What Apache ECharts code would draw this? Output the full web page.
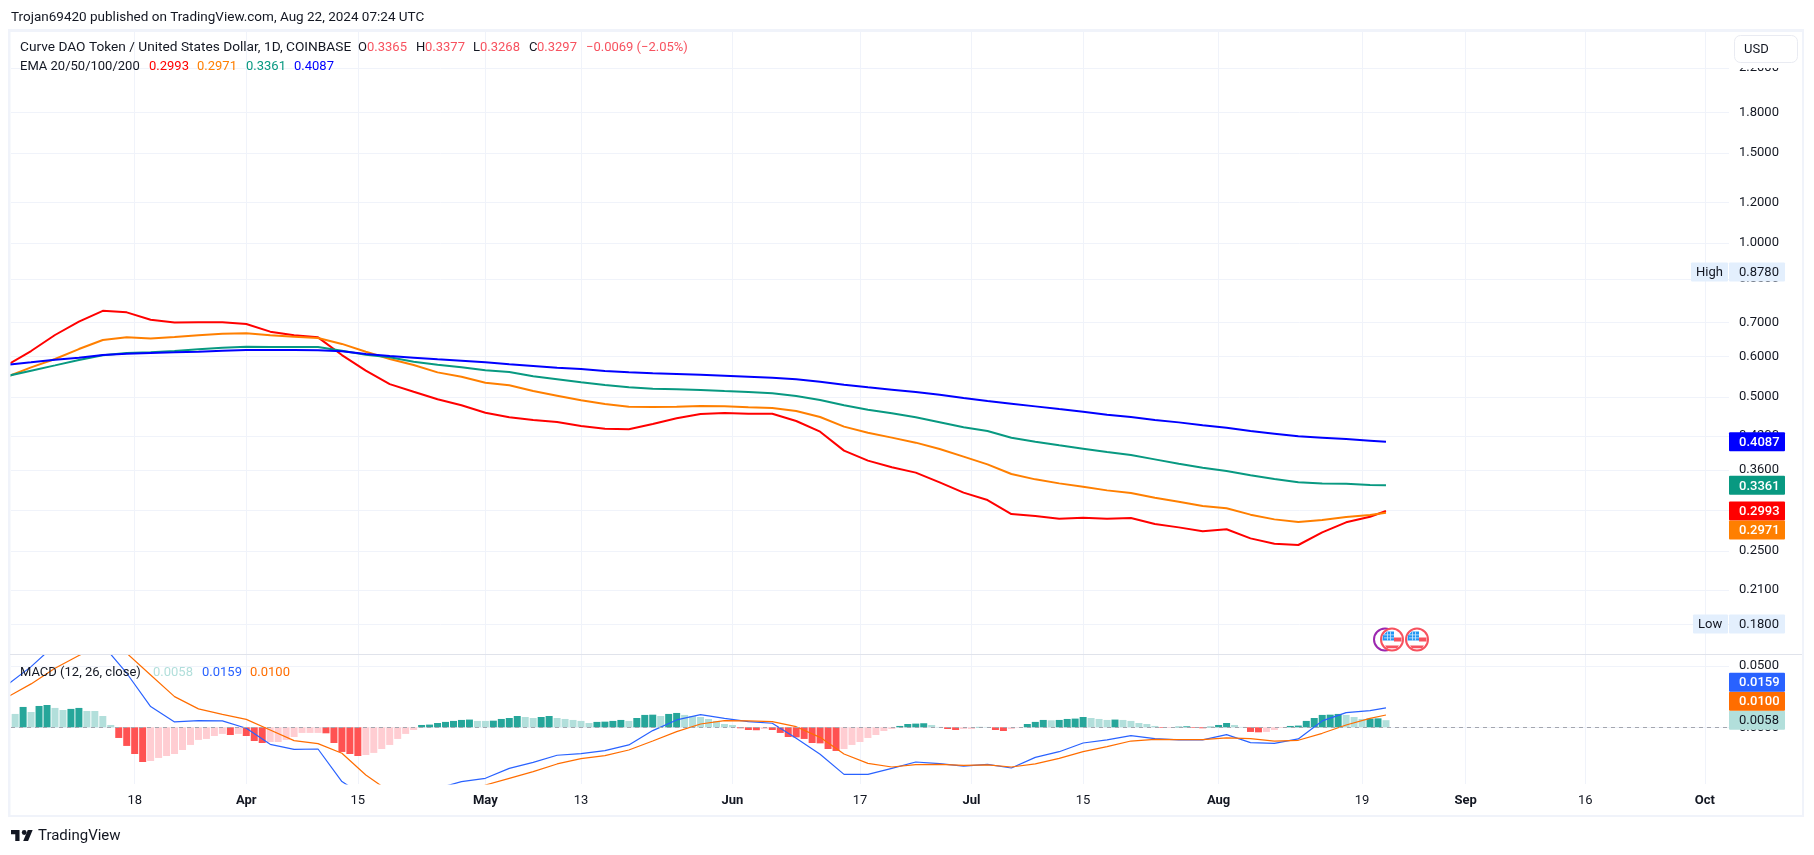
<!DOCTYPE html>
<html>
<head>
    <meta charset="utf-8">
    <title>Curve DAO Token / USD</title>
    <script src="https://cdn.jsdelivr.net/npm/echarts/dist/echarts.min.js"></script>
    <style>
        html, body { margin: 0; padding: 0; background: #fff; }
    </style>
</head>
<body>
    <div id="main" style="width: 1814px;height:855px;"></div>
    <script>
        // day offsets from 1 Apr 2024 at which the lines were read: every 3 days, then the last bar
        var lineDays = [];
        for (var d = -30; d <= 141; d += 3) lineDays.push(d);
        lineDays.push(143);

        var ema20 = [
            0.5775, 0.615, 0.661, 0.702, 0.737, 0.732, 0.708, 0.699, 0.7, 0.7, 0.6945, 0.671, 0.66, 0.654, 0.604, 0.563, 0.53, 0.512, 0.495, 0.482, 0.466,
            0.4564, 0.4509, 0.4469, 0.4389, 0.4337, 0.4324, 0.4428, 0.4543, 0.4633, 0.4653, 0.4639, 0.4639, 0.4488, 0.4278, 0.3928, 0.3755, 0.3644, 0.3558, 0.3406, 0.3252,
            0.3145, 0.2953, 0.2927, 0.2892, 0.2905, 0.2892, 0.2901, 0.2824, 0.2781, 0.2732, 0.2757, 0.2647, 0.2584, 0.2569, 0.272, 0.2845, 0.2918, 0.2993
        ];
        var ema50 = [
            0.548, 0.5715, 0.5933, 0.6205, 0.6463, 0.654, 0.651, 0.655, 0.66, 0.665, 0.666, 0.66, 0.656, 0.652, 0.635, 0.613, 0.5933, 0.5775, 0.5587, 0.548, 0.5334,
            0.5271, 0.5137, 0.5031, 0.4926, 0.4845, 0.4788, 0.4781, 0.4788, 0.4802, 0.4795, 0.4774, 0.4759, 0.4695, 0.457, 0.4376, 0.4259, 0.4165, 0.4072, 0.3957, 0.3823,
            0.3693, 0.3536, 0.3452, 0.339, 0.334, 0.3285, 0.3246, 0.3179, 0.3122, 0.3061, 0.303, 0.2945, 0.2883, 0.2849, 0.2874, 0.2913, 0.294, 0.2971
        ];
        var ema100 = [
            0.5496, 0.563, 0.5766, 0.5906, 0.6032, 0.6096, 0.6113, 0.615, 0.6197, 0.6244, 0.6272, 0.6262, 0.6262, 0.6262, 0.616, 0.605, 0.5978, 0.5863, 0.5784, 0.5715, 0.5638,
            0.5596, 0.5488, 0.5415, 0.5342, 0.5278, 0.5223, 0.5192, 0.5176, 0.5161, 0.5137, 0.5115, 0.5084, 0.5023, 0.4934, 0.4817, 0.4724, 0.4646, 0.4564, 0.4462, 0.4363,
            0.4291, 0.4164, 0.4089, 0.4023, 0.3963, 0.3904, 0.3851, 0.3777, 0.3704, 0.3638, 0.3584, 0.3515, 0.3457, 0.3406, 0.339, 0.3386, 0.3364, 0.3361
        ];
        var ema200 = [
            0.5784, 0.5845, 0.5915, 0.5969, 0.6041, 0.6077, 0.6096, 0.6113, 0.6132, 0.616, 0.6178, 0.618, 0.618, 0.6175, 0.6141, 0.6069, 0.6014, 0.5969, 0.5924, 0.5889, 0.5845,
            0.5793, 0.5749, 0.5706, 0.5672, 0.5621, 0.5588, 0.5563, 0.5546, 0.553, 0.5505, 0.548, 0.5456, 0.5415, 0.5358, 0.5286, 0.5223, 0.5169, 0.5115, 0.5053, 0.4979,
            0.4911, 0.4852, 0.4794, 0.4737, 0.4681, 0.4618, 0.457, 0.4508, 0.4461, 0.4402, 0.4355, 0.4291, 0.4239, 0.4189, 0.4164, 0.4139, 0.4108, 0.4087
        ];
        var macdLine = [
            0.0345, 0.0495, 0.0672, 0.0753, 0.0672, 0.0441, 0.0169, 0.0044, 0.0054, 0.0052, -0.0008, -0.0139, -0.018, -0.0177, -0.0443, -0.0566, -0.0607, -0.0566, -0.0498, -0.0443, -0.0416,
            -0.0335, -0.0286, -0.0228, -0.0215, -0.019, -0.0144, -0.0027, 0.006, 0.0103, 0.0073, 0.0046, 0.0033, -0.009, -0.022, -0.0384, -0.0384, -0.0335, -0.0283, -0.0296, -0.0316,
            -0.0302, -0.0332, -0.0245, -0.0199, -0.0128, -0.0103, -0.0068, -0.0092, -0.0103, -0.0103, -0.006, -0.0125, -0.0131, -0.0095, 0.0052, 0.012, 0.0136, 0.0159
        ];
        var signalLine = [
            0.0245, 0.0354, 0.0481, 0.0585, 0.0685, 0.0604, 0.0427, 0.025, 0.015, 0.0106, 0.0065, -0.0022, -0.0109, -0.0133, -0.0212, -0.0389, -0.0525, -0.0634, -0.0661, -0.062, -0.0471,
            -0.0416, -0.0362, -0.0299, -0.0256, -0.0231, -0.0185, -0.0112, -0.0035, 0.0027, 0.0054, 0.0052, 0.0046, 0.0005, -0.0082, -0.0218, -0.0294, -0.0324, -0.0305, -0.0302, -0.031,
            -0.0307, -0.0324, -0.0299, -0.0253, -0.0199, -0.0158, -0.0112, -0.0098, -0.0101, -0.0101, -0.0087, -0.0092, -0.0112, -0.0106, -0.0049, 0.0019, 0.0073, 0.01
        ];

        // daily histogram, 3 Mar to 22 Aug
        var histMar = [0.0109, 0.0166, 0.0125, 0.0174, 0.0182, 0.0158, 0.0141, 0.015, 0.0158, 0.0133, 0.0133, 0.0092, 0.0019, -0.0087, -0.0152, -0.0218, -0.0283, -0.0275, -0.025, -0.0234, -0.0218, -0.0185, -0.0144, -0.0103, -0.0095, -0.0071, -0.0054, -0.0063, -0.0054];
        var histApr = [-0.0071, -0.0112, -0.0128, -0.012, -0.012, -0.0103, -0.0079, -0.0046, -0.0046, -0.0046, -0.0049, -0.0128, -0.0201, -0.0218, -0.0234, -0.0226, -0.0209, -0.0177, -0.0144, -0.0095, -0.0054, -0.0022, 0.0019, 0.0022, 0.0035, 0.0044, 0.0052, 0.006, 0.0063, 0.0052];
        var histMay = [0.0052, 0.0054, 0.0068, 0.0076, 0.0092, 0.0084, 0.0076, 0.0084, 0.0092, 0.0076, 0.0068, 0.006, 0.0052, 0.0035, 0.0044, 0.0046, 0.0052, 0.006, 0.0052, 0.0076, 0.0101, 0.0103, 0.0092, 0.0109, 0.0117, 0.0101, 0.0092, 0.0084, 0.0068, 0.0052, 0.0027];
        var histJun = [0.0019, -0.0008, -0.0022, -0.0024, -0.0014, -0.0022, -0.0046, -0.0079, -0.0082, -0.0095, -0.0128, -0.0131, -0.0177, -0.0193, -0.0177, -0.0144, -0.012, -0.0087, -0.0063, -0.003, -0.0014, 0.0011, 0.0027, 0.003, 0.0033, 0.0019, 0.0003, -0.0014, -0.0022, -0.0014];
        var histJul = [-0.0014, 0.0003, 0.0003, -0.0022, -0.003, -0.0014, -0.0003, 0.0027, 0.0044, 0.006, 0.0057, 0.006, 0.0068, 0.0071, 0.0084, 0.0076, 0.0068, 0.006, 0.0063, 0.006, 0.0052, 0.0035, 0.0027, 0.0011, -0.0005, -0.0005, 0.0005, 0.0008, -0.0005, -0.0008, 0.0005];
        var histAug = [0.0019, 0.0035, 0.0019, 0.0003, -0.0038, -0.0041, -0.0038, -0.0022, -0.0005, 0.0011, 0.0014, 0.0052, 0.0076, 0.0101, 0.0103, 0.0109, 0.0101, 0.0084, 0.0068, 0.0071, 0.0073, 0.0058];

        var priceTicks = [2.2, 1.8, 1.5, 1.2, 1.0, 0.85, 0.7, 0.6, 0.5, 0.42, 0.36, 0.3, 0.25, 0.21, 0.18];
        var macdTicks = [0, 0.05];
        var timeTicks = [
            ['2024-03-18', '18'], ['2024-04-01', 'Apr'], ['2024-04-15', '15'], ['2024-05-01', 'May'], ['2024-05-13', '13'],
            ['2024-06-01', 'Jun'], ['2024-06-17', '17'], ['2024-07-01', 'Jul'], ['2024-07-15', '15'], ['2024-08-01', 'Aug'],
            ['2024-08-19', '19'], ['2024-09-01', 'Sep'], ['2024-09-16', '16'], ['2024-10-01', 'Oct']
        ];

        var DAY = 86400000;
        var APR1 = Date.UTC(2024, 3, 1);
        var FONT = 'Roboto, sans-serif';
        var INK = '#131722';
        var GRID = '#f0f3fa';

        function dayToTime(day) { return APR1 + day * DAY; }
        function linePairs(values) {
            return values.map(function (v, i) { return [dayToTime(lineDays[i]), v]; });
        }

        // bar colour follows the usual MACD rule: strong when the bar grows, pale when it shrinks
        var histValues = histMar.concat(histApr, histMay, histJun, histJul, histAug);
        var histData = histValues.map(function (v, i) {
            var prev = i > 0 ? histValues[i - 1] : Infinity;
            var color = v >= 0 ? (v > prev ? '#26a69a' : '#b2dfdb') : (v < prev ? '#ff5252' : '#ffcdd2');
            return { value: [dayToTime(i - 29), v], itemStyle: { color: color } };
        });

        var timeValues = timeTicks.map(function (t) { return Date.parse(t[0] + 'T00:00:00Z'); });
        var timeLabelMap = {};
        timeTicks.forEach(function (t, i) { timeLabelMap[timeValues[i]] = t[1]; });

        // plain value axis in milliseconds: time axes do not take customValues
        function timeAxis(gridIndex, showLabel) {
            return {
                type: 'value',
                gridIndex: gridIndex,
                min: dayToTime(-29.52),
                max: dayToTime(186.04),
                axisLine: { show: false },
                axisTick: { show: false, customValues: timeValues },
                splitLine: { show: true, lineStyle: { color: GRID, width: 1 } },
                axisLabel: {
                    show: showLabel,
                    customValues: timeValues,
                    margin: 10,
                    hideOverlap: false,
                    showMinLabel: true,
                    showMaxLabel: true,
                    formatter: function (value) {
                        var text = timeLabelMap[value];
                        return /^\d/.test(text) ? '{day|' + text + '}' : '{month|' + text + '}';
                    },
                    rich: {
                        day: { fontFamily: FONT, fontSize: 13, color: INK },
                        month: { fontFamily: FONT, fontSize: 13, fontWeight: 'bold', color: INK }
                    }
                }
            };
        }

        function emaSeries(name, values, color) {
            return {
                name: name, type: 'line', xAxisIndex: 0, yAxisIndex: 0,
                data: linePairs(values), showSymbol: false, silent: true,
                lineStyle: { color: color, width: 2 }
            };
        }
        function macdSeries(name, values, color) {
            return {
                name: name, type: 'line', xAxisIndex: 1, yAxisIndex: 1,
                data: linePairs(values), showSymbol: false, silent: true,
                lineStyle: { color: color, width: 1.2 }
            };
        }

        var myChart = echarts.init(document.getElementById('main'));

        var option = {
            animation: false,
            backgroundColor: '#fff',
            grid: [
                { left: 11, top: 32, width: 1718, height: 622 },
                { left: 11, top: 655, width: 1718, height: 129 }
            ],
            xAxis: [timeAxis(0, false), timeAxis(1, true)],
            yAxis: [
                {
                    type: 'log',
                    logBase: Math.E,
                    gridIndex: 0,
                    position: 'right',
                    min: 0.1573,
                    max: 2.5847,
                    axisLine: { show: false },
                    axisTick: { show: false, customValues: priceTicks },
                    splitLine: { show: true, lineStyle: { color: GRID, width: 1 } },
                    axisLabel: {
                        customValues: priceTicks,
                        margin: 10,
                        padding: [2, 0, 0, 0],
                        color: INK,
                        fontFamily: FONT,
                        fontSize: 13,
                        showMinLabel: true,
                        showMaxLabel: true,
                        formatter: function (v) { return v.toFixed(4); }
                    }
                },
                {
                    type: 'value',
                    gridIndex: 1,
                    position: 'right',
                    min: -0.04625,
                    max: 0.05897,
                    axisLine: { show: false },
                    axisTick: { show: false, customValues: macdTicks },
                    splitLine: { show: true, lineStyle: { color: GRID, width: 1 } },
                    axisLabel: {
                        customValues: macdTicks,
                        margin: 10,
                        padding: [2, 0, 0, 0],
                        color: INK,
                        fontFamily: FONT,
                        fontSize: 13,
                        formatter: function (v) { return v.toFixed(4); }
                    }
                }
            ],
            series: [
                {
                    name: 'Histogram', type: 'bar', xAxisIndex: 1, yAxisIndex: 1,
                    data: histData, barWidth: 7, silent: true,
                    markLine: {
                        silent: true, symbol: 'none', label: { show: false },
                        lineStyle: { color: '#a3a6af', type: [4, 4], width: 1 },
                        data: [{ yAxis: 0 }]
                    }
                },
                emaSeries('EMA 20', ema20, '#ff0000'),
                emaSeries('EMA 50', ema50, '#ff7f00'),
                emaSeries('EMA 100', ema100, '#089981'),
                emaSeries('EMA 200', ema200, '#0000ff'),
                macdSeries('MACD', macdLine, '#2962ff'),
                macdSeries('Signal', signalLine, '#ff6d00')
            ]
        };

        myChart.setOption(option);

        // everything TradingView paints around the panes
        var elements = [];

        function addRect(x, y, w, h, color, r) {
            elements.push({
                type: 'rect', z: 100, silent: true,
                shape: { x: x, y: y, width: w, height: h, r: r || 0 },
                style: { fill: color }
            });
        }
        function addPolygon(points, color, z, transform) {
            var el = {
                type: 'polygon', z: z, silent: true,
                shape: { points: points },
                style: { fill: color }
            };
            if (transform) {
                el.x = transform.x;
                el.y = transform.y;
                el.scaleX = transform.scale;
                el.scaleY = transform.scale;
            }
            elements.push(el);
        }
        function addText(text, x, y, color, opts) {
            opts = opts || {};
            elements.push({
                type: 'text', z: 101, silent: true, x: x, y: y,
                style: {
                    text: text, fill: color,
                    font: (opts.weight || 'normal') + ' ' + (opts.size || 13) + 'px ' + FONT,
                    textAlign: 'left', textVerticalAlign: 'middle'
                }
            });
        }

        // outer frame and pane separator
        addRect(8, 29, 1796, 3, GRID);
        addRect(8, 29, 2.5, 788, GRID);
        addRect(1802, 29, 2, 788, GRID);
        addRect(8, 815, 1796, 2, GRID);
        addRect(10, 654, 1792, 1, '#e0e3eb');

        // header lines
        addText('Trojan69420 published on TradingView.com, Aug 22, 2024 07:24 UTC', 11, 17.5, INK, { size: 13.5 });
        addText('Curve DAO Token / United States Dollar, 1D, COINBASE', 20, 47.5, INK, { size: 13.7 });
        var ohlcColor = '#f7525f';
        [['O', 358, '0.3365', 367], ['H', 416, '0.3377', 425], ['L', 473, '0.3268', 480], ['C', 529, '0.3297', 537]].forEach(function (p) {
            addText(p[0], p[1], 47.5, INK);
            addText(p[2], p[3], 47.5, ohlcColor);
        });
        addText('\u22120.0069 (\u22122.05%)', 586, 47.5, ohlcColor);
        addText('EMA 20/50/100/200', 20, 66.5, INK);
        addText('0.2993', 149, 66.5, '#ff0000');
        addText('0.2971', 197, 66.5, '#ff7f00');
        addText('0.3361', 246, 66.5, '#089981');
        addText('0.4087', 294, 66.5, '#0000ff');

        addText('MACD (12, 26, close)', 20, 672.5, INK);
        addText('0.0058', 153, 672.5, '#b2dfdb');
        addText('0.0159', 202, 672.5, '#2962ff');
        addText('0.0100', 250, 672.5, '#ff6d00');

        // currency box, with the white strip that cuts the top tick label in half
        addRect(1729, 32, 73, 36, '#fff');
        elements.push({
            type: 'rect', z: 100, silent: true,
            shape: { x: 1734.5, y: 35.5, width: 63, height: 27, r: 6 },
            style: { fill: '#fff', stroke: '#e9ebf2', lineWidth: 1 }
        });
        addText('USD', 1744, 49.5, INK);

        // price scale badges: a label is pushed clear of its neighbour, as on the original
        var BADGE_H = 19;
        function badgeY(axisIndex, value) {
            return myChart.convertToPixel({ yAxisIndex: axisIndex }, value);
        }
        function addBadge(value, y, fill, textColor) {
            addRect(1729, y - BADGE_H / 2, 56, BADGE_H, fill, 1);
            addText(value.toFixed(4), 1739, y + 1, textColor, { weight: fill === '#e3effd' || fill === '#b2dfdb' ? 'normal' : '500' });
        }

        var priceBadges = [[0.4087, '#0000ff'], [0.3361, '#089981'], [0.2993, '#ff0000'], [0.2971, '#ff7f00']];
        var lastY = -Infinity;
        priceBadges.forEach(function (b) {
            var y = Math.max(badgeY(0, b[0]), lastY + BADGE_H);
            addBadge(b[0], y, b[1], '#fff');
            lastY = y;
        });

        var macdBadges = [[0.0058, '#b2dfdb', INK], [0.01, '#ff6d00', '#fff'], [0.0159, '#2962ff', '#fff']];
        lastY = Infinity;
        macdBadges.forEach(function (b) {
            var y = Math.min(badgeY(1, b[0]), lastY - BADGE_H);
            addBadge(b[0], y, b[1], b[2]);
            lastY = y;
        });

        // high / low markers
        [['High', 0.878, 1691], ['Low', 0.18, 1693]].forEach(function (m) {
            var y = badgeY(0, m[1]);
            addRect(m[2], y - BADGE_H / 2, 1728 - m[2], BADGE_H, '#e3effd', 1);
            addText(m[0], m[2] + 5, y + 1, INK);
            addBadge(m[1], y, '#e3effd', INK);
        });

        // economic event icons
        elements.push({
            type: 'circle', z: 96, silent: true,
            shape: { cx: 1385, cy: 639.5, r: 11 },
            style: { fill: '#fff', stroke: '#9c27b0', lineWidth: 2 }
        });
        function addFlag(cx, cy) {
            elements.push({
                type: 'circle', z: 97, silent: true,
                shape: { cx: cx, cy: cy, r: 11 },
                style: { fill: '#fff', stroke: '#f7525f', lineWidth: 2 }
            });
            function at(points) {
                return points.map(function (p) { return [cx + p[0], cy + p[1]]; });
            }
            addPolygon(at([[2, -2], [9.5, -2], [9.5, 2], [2, 2]]), '#f7525f', 98);
            addPolygon(at([[-7, 6], [7, 6], [5, 8.7], [-5, 8.7]]), '#f7525f', 98);
            addPolygon(at([[-9, -4], [-5, -8], [2, -8], [2, 1], [-9.5, 1]]), '#2196f3', 98);
            [-5, -2].forEach(function (o) {
                addPolygon(at([[-8, o], [2, o], [2, o + 0.8], [-8, o + 0.8]]), '#cfe8fc', 99);
                addPolygon(at([[o, -8], [o + 0.8, -8], [o + 0.8, 1], [o, 1]]), '#cfe8fc', 99);
            });
        }
        addFlag(1392, 639.5);
        addFlag(1417, 639.5);

        // footer logo
        var logo = { x: 11, y: 827.6, scale: 0.61 };
        addPolygon([[0, 4], [14, 4], [14, 22], [7, 22], [7, 11], [0, 11]], INK, 100, logo);
        addPolygon([[20, 22], [28, 22], [35.5, 4], [27.5, 4]], INK, 100, logo);
        elements.push({
            type: 'circle', z: 100, silent: true,
            shape: { cx: 13.2 + 11, cy: 4.9 + 827.6, r: 2.4 },
            style: { fill: INK }
        });
        addText('TradingView', 38, 836.5, INK, { size: 15 });

        myChart.setOption({ graphic: { elements: elements } });
    </script>
</body>
</html>
